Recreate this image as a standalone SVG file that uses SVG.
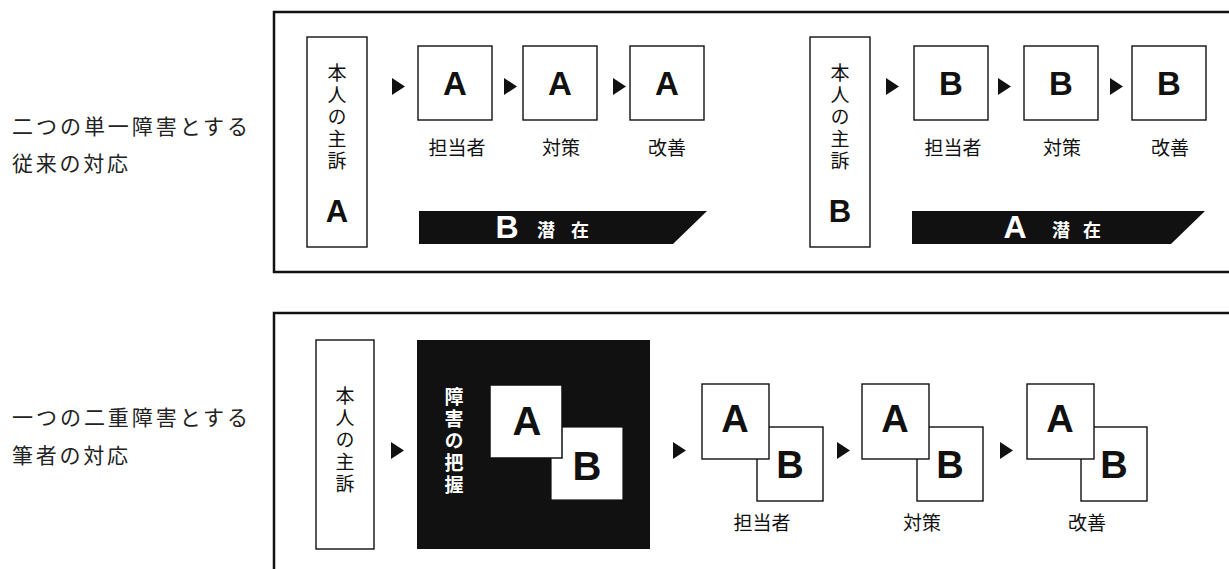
<svg xmlns="http://www.w3.org/2000/svg" width="1229" height="569" viewBox="0 0 1229 569">
<style>
.frame{fill:none;stroke:#111;stroke-width:2.5}
.box{fill:#fff;stroke:#111;stroke-width:1.4}
.jp{font-family:"Noto Sans CJK JP","Noto Sans",sans-serif;fill:#111}
.side{font-family:"Noto Sans CJK JP","Noto Sans",sans-serif;fill:#222;font-size:21px}
.lbl{font-family:"Noto Sans CJK JP",sans-serif;fill:#111;font-size:19px;text-anchor:middle}
.vt{font-family:"Noto Sans CJK JP",sans-serif;font-size:19px;writing-mode:vertical-rl;text-anchor:middle;letter-spacing:3px}
.big{font-family:"Liberation Sans",Arial,sans-serif;font-weight:bold;fill:#111;text-anchor:middle}
.wbig{font-family:"Liberation Sans",Arial,sans-serif;font-weight:bold;fill:#fff;text-anchor:middle}
.arr{fill:#111}
</style>
<rect width="1229" height="569" fill="#fff"/>

<!-- side labels -->
<g id="label-top">
<text class="side" x="12" y="134" textLength="236" lengthAdjust="spacing">二つの単一障害とする</text>
<text class="side" x="12" y="171" textLength="116" lengthAdjust="spacing">従来の対応</text>
</g>
<g id="label-bottom">
<text class="side" x="12" y="425" textLength="236" lengthAdjust="spacing">一つの二重障害とする</text>
<text class="side" x="12" y="463" textLength="116" lengthAdjust="spacing">筆者の対応</text>
</g>

<!-- frames -->
<g id="frame-top"><path class="frame" d="M1232,12 H274 V272 H1232"/></g>
<g id="frame-bottom"><path class="frame" d="M1232,313 H274 V572"/></g>

<!-- top left group -->
<g id="complaint-A">
<rect class="box" x="307" y="37" width="60" height="210"/>
<text class="vt jp" x="337" y="118">本人の主訴</text>
<text class="big" x="337" y="222" font-size="31">A</text>
</g>
<g id="tl-staff"><rect class="box" x="418" y="46" width="74" height="74"/><text class="big" x="455" y="95" font-size="33">A</text><text class="lbl" x="457" y="155">担当者</text></g>
<g id="tl-measure"><rect class="box" x="523" y="46" width="74" height="74"/><text class="big" x="560" y="95" font-size="33">A</text><text class="lbl" x="561" y="155">対策</text></g>
<g id="tl-improve"><rect class="box" x="630" y="46" width="74" height="74"/><text class="big" x="667" y="95" font-size="33">A</text><text class="lbl" x="667" y="155">改善</text></g>
<g id="tl-latent">
<polygon points="419,211 707,211 673,244 419,244" fill="#111"/>
<text class="wbig" x="507" y="238" font-size="32">B</text>
<text class="jp" x="537" y="237" font-size="18" font-weight="bold" fill="#fff" style="fill:#fff" letter-spacing="16">潜在</text>
</g>

<!-- top right group -->
<g id="complaint-B">
<rect class="box" x="810" y="37" width="60" height="210"/>
<text class="vt jp" x="840" y="118">本人の主訴</text>
<text class="big" x="840" y="222" font-size="31">B</text>
</g>
<g id="tr-staff"><rect class="box" x="914" y="46" width="74" height="74"/><text class="big" x="951" y="95" font-size="33">B</text><text class="lbl" x="953" y="155">担当者</text></g>
<g id="tr-measure"><rect class="box" x="1024" y="46" width="74" height="74"/><text class="big" x="1061" y="95" font-size="33">B</text><text class="lbl" x="1062" y="155">対策</text></g>
<g id="tr-improve"><rect class="box" x="1132" y="46" width="74" height="74"/><text class="big" x="1169" y="95" font-size="33">B</text><text class="lbl" x="1170" y="155">改善</text></g>
<g id="tr-latent">
<polygon points="912,211 1205,211 1171,244 912,244" fill="#111"/>
<text class="wbig" x="1015" y="238" font-size="32">A</text>
<text class="jp" x="1052" y="237" font-size="18" font-weight="bold" style="fill:#fff" letter-spacing="13">潜在</text>
</g>

<!-- bottom group -->
<g id="complaint-AB">
<rect class="box" x="316" y="340" width="58" height="209"/>
<text class="vt jp" x="345" y="441">本人の主訴</text>
</g>
<g id="grasp">
<rect x="417" y="340" width="233" height="209" fill="#111"/>
<text class="vt" x="454" y="442" font-weight="bold" style="fill:#fff">障害の把握</text>
<rect x="551" y="427" width="72" height="73" fill="#fff" stroke="#111" stroke-width="1.2"/>
<text class="big" x="587" y="480" font-size="40">B</text>
<rect x="490" y="385" width="72" height="73" fill="#fff" stroke="#111" stroke-width="1.5"/>
<text class="big" x="527" y="435" font-size="40">A</text>
</g>
<g id="b-staff">
<rect class="box" x="757" y="427" width="66" height="74"/><text class="big" x="790" y="478" font-size="38">B</text>
<rect class="box" x="702" y="384" width="67" height="75"/><text class="big" x="735" y="432" font-size="38">A</text>
<text class="lbl" x="762" y="530">担当者</text>
</g>
<g id="b-measure">
<rect class="box" x="917" y="427" width="66" height="74"/><text class="big" x="950" y="478" font-size="38">B</text>
<rect class="box" x="862" y="384" width="67" height="75"/><text class="big" x="895" y="432" font-size="38">A</text>
<text class="lbl" x="922" y="530">対策</text>
</g>
<g id="b-improve">
<rect class="box" x="1081" y="427" width="66" height="74"/><text class="big" x="1114" y="478" font-size="38">B</text>
<rect class="box" x="1027" y="384" width="67" height="75"/><text class="big" x="1060" y="432" font-size="38">A</text>
<text class="lbl" x="1087" y="530">改善</text>
</g>

<!-- connectors -->
<g id="connectors">
<polygon class="arr" points="392,78 392,95 405,86.5"/>
<polygon class="arr" points="504,78 504,95 517,86.5"/>
<polygon class="arr" points="613,78 613,95 626,86.5"/>
<polygon class="arr" points="886,78 886,95 899,86.5"/>
<polygon class="arr" points="998,78 998,95 1011,86.5"/>
<polygon class="arr" points="1110,78 1110,95 1123,86.5"/>
<polygon class="arr" points="391,442 391,459 404,450.5"/>
<polygon class="arr" points="673,442 673,459 686,450.5"/>
<polygon class="arr" points="837,442 837,459 850,450.5"/>
<polygon class="arr" points="1000,442 1000,459 1013,450.5"/>
</g>
</svg>
